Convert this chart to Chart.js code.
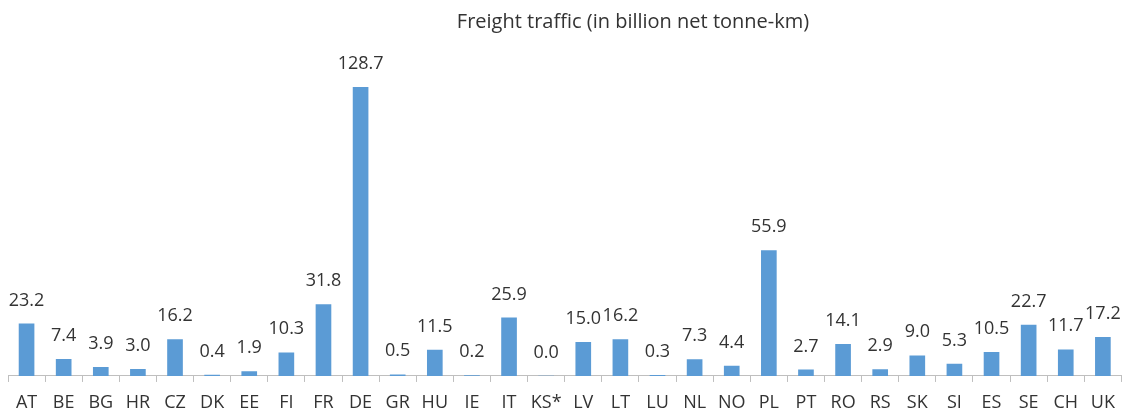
<!DOCTYPE html>
<html lang="en">
<head>
  <meta charset="UTF-8" />
  <title>Freight traffic</title>
  <script src="https://cdn.jsdelivr.net/npm/chart.js"></script>
  <style>
    html, body { margin: 0; padding: 0; background: #fff; }
    #wrap { width: 1129px; height: 412px; position: relative; }
  </style>
</head>
<body>
  <div id="wrap"><canvas id="freightChart"></canvas></div>

  <script>
    const countries = ["AT", "BE", "BG", "HR", "CZ", "DK", "EE", "FI", "FR", "DE",
      "GR", "HU", "IE", "IT", "KS*", "LV", "LT", "LU", "NL", "NO",
      "PL", "PT", "RO", "RS", "SK", "SI", "ES", "SE", "CH", "UK"];
    const freight = [23.2, 7.4, 3.9, 3.0, 16.2, 0.4, 1.9, 10.3, 31.8, 128.7,
      0.5, 11.5, 0.2, 25.9, 0.0, 15.0, 16.2, 0.3, 7.3, 4.4,
      55.9, 2.7, 14.1, 2.9, 9.0, 5.3, 10.5, 22.7, 11.7, 17.2];
    const chartTitle = "Freight traffic (in billion net tonne-km)";

    const textColor = "#333333";
    const fontFamily = "'Open Sans', 'Noto Sans', sans-serif";

    // value labels above bars + title
    const labelPlugin = {
      id: "valueLabels",
      afterDatasetsDraw(chart) {
        const ctx = chart.ctx;
        const meta = chart.getDatasetMeta(0);
        ctx.save();
        ctx.fillStyle = textColor;
        ctx.font = "18px " + fontFamily;
        ctx.textAlign = "center";
        ctx.textBaseline = "middle";
        meta.data.forEach((bar, i) => {
          ctx.fillText(freight[i].toFixed(1), bar.x, bar.y - 23.5);
        });
        ctx.font = "20px " + fontFamily;
        ctx.fillText(chartTitle, 633, 22);
        ctx.restore();
      }
    };

    new Chart(document.getElementById("freightChart"), {
      type: "bar",
      data: {
        labels: countries,
        datasets: [{
          data: freight,
          backgroundColor: "#5B9BD5",
          barThickness: 15
        }]
      },
      options: {
        responsive: true,
        maintainAspectRatio: false,
        animation: false,
        layout: { padding: { left: 8, right: 3, top: 62, bottom: -12 } },
        plugins: {
          legend: { display: false },
          tooltip: { enabled: false },
          title: { display: false }
        },
        scales: {
          x: {
            grid: {
              offset: true,
              drawOnChartArea: false,
              drawTicks: true,
              tickLength: 6,
              color: "#bfbfbf"
            },
            border: { display: true, color: "#bfbfbf" },
            ticks: {
              color: textColor,
              font: { family: fontFamily, size: 18, lineHeight: 0.78 },
              maxRotation: 0,
              autoSkip: false,
              padding: 14
            }
          },
          y: {
            display: false,
            min: 0,
            max: 140
          }
        }
      },
      plugins: [labelPlugin]
    });
  </script>
</body>
</html>
